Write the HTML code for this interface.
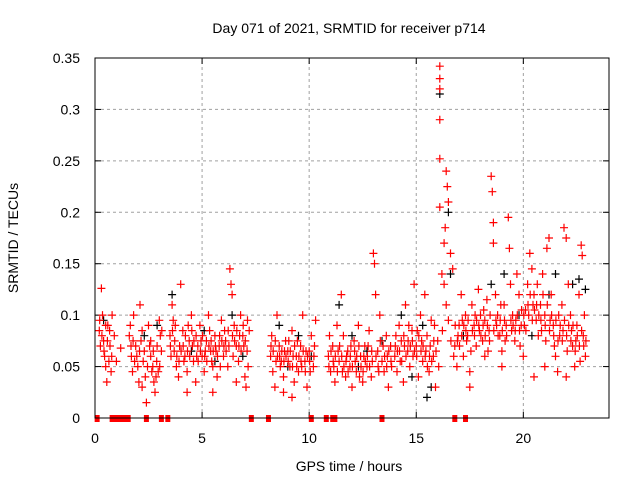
<!DOCTYPE html>
<html><head><meta charset="utf-8"><style>
html,body{margin:0;padding:0;background:#fff}
svg{display:block;font-family:"Liberation Sans",sans-serif}
</style></head><body>
<svg id="chart" width="640" height="480" viewBox="0 0 640 480">
<text x="349" y="33" font-size="14" text-anchor="middle">Day 071 of 2021, SRMTID for receiver p714</text>
<text x="349" y="471" font-size="14" text-anchor="middle">GPS time / hours</text>
<text x="18" y="238" font-size="14" text-anchor="middle" transform="rotate(-90 18 238)">SRMTID / TECUs</text>
<g id="grid"></g>
<g id="ticks"></g>
<g id="black"></g>
<g id="red"></g>
<g id="gaps"></g>
<rect x="95" y="58" width="514" height="360" fill="none" stroke="#000" stroke-width="1"/>
</svg>
<script>
const xTicks = [0,5,10,15,20];
const yTicks = [0,0.05,0.1,0.15,0.2,0.25,0.3,0.35];
const yTickLabels = ["0","0.05","0.1","0.15","0.2","0.25","0.3","0.35"];
const zeroTimes = [0.1,0.8,0.95,1.1,1.25,1.4,1.55,2.4,3.1,3.4,7.3,8.1,10.1,10.8,11.1,11.2,13.4,16.8,17.3];
const redPts = [[0.2,0.085],[0.3,0.126],[0.35,0.1],[0.4,0.075],[0.45,0.06],[0.5,0.05],[0.55,0.035],[0.6,0.09],[0.7,0.07],[0.75,0.045],[0.8,0.1],[0.9,0.08],[1.0,0.055],[1.2,0.068],
[1.6,0.08],[1.7,0.06],[1.75,0.045],[1.8,0.1],[1.9,0.07],[2.0,0.05],[2.05,0.035],[2.1,0.11],[2.2,0.085],[2.3,0.065],[2.35,0.04],[2.4,0.015],[2.5,0.09],[2.6,0.06],[2.7,0.05],[2.75,0.035],[2.8,0.025],[2.9,0.07],[2.95,0.045],[3.0,0.095],[3.1,0.065],[2.6,0.075],[2.2,0.03],
[3.5,0.08],[3.6,0.11],[3.65,0.095],[3.7,0.065],[3.8,0.05],[3.9,0.04],[4.0,0.13],[4.1,0.085],[4.2,0.06],[4.3,0.045],[4.4,0.075],[4.5,0.1],[4.6,0.055],[4.7,0.035],[4.8,0.07],[4.9,0.09],[5.0,0.06],[5.1,0.045],[5.2,0.075],[5.3,0.1],[5.4,0.065],[5.5,0.05],[5.6,0.08],[5.7,0.04],[5.8,0.07],[5.9,0.095],[6.0,0.06],[6.1,0.075],[6.2,0.05],[6.3,0.145],[6.35,0.13],[6.4,0.12],[6.5,0.09],[6.6,0.07],[6.7,0.055],[6.8,0.1],[6.9,0.08],[7.0,0.04],[7.05,0.03],[7.1,0.065],[7.2,0.085],[4.3,0.025],[5.5,0.025],[6.6,0.035],
[8.2,0.06],[8.3,0.045],[8.4,0.03],[8.5,0.1],[8.6,0.07],[8.7,0.055],[8.8,0.04],[8.9,0.075],[9.0,0.065],[9.1,0.05],[9.2,0.085],[9.3,0.035],[9.4,0.06],[9.5,0.045],[9.6,0.07],[9.7,0.1],[9.8,0.055],[9.9,0.03],[10.0,0.065],[10.1,0.08],[10.2,0.05],[10.3,0.095],[9.2,0.02],[8.8,0.025],
[10.9,0.06],[11.0,0.045],[11.1,0.07],[11.2,0.035],[11.3,0.09],[11.4,0.055],[11.5,0.12],[11.6,0.08],[11.7,0.04],[11.8,0.065],[11.9,0.05],[12.0,0.03],[12.1,0.075],[12.2,0.045],[12.3,0.09],[12.4,0.06],[12.5,0.035],[12.6,0.07],[12.7,0.05],[12.8,0.085],[12.9,0.04],[13.0,0.16],[13.05,0.15],[13.1,0.12],[13.2,0.065],[13.3,0.1],[13.4,0.055],[13.5,0.045],[13.6,0.08],[13.7,0.03],[13.8,0.07],
[14.0,0.06],[14.1,0.045],[14.2,0.09],[14.3,0.075],[14.4,0.035],[14.5,0.11],[14.6,0.065],[14.7,0.05],[14.8,0.085],[14.9,0.13],[15.0,0.07],[15.1,0.04],[15.2,0.1],[15.3,0.055],[15.4,0.12],[15.5,0.08],[15.6,0.045],[15.7,0.095],[15.8,0.06],[15.9,0.03],[16.0,0.075],
[16.1,0.342],[16.1,0.33],[16.1,0.32],[16.1,0.29],[16.1,0.252],[16.1,0.205],[16.2,0.14],[16.3,0.17],[16.35,0.185],[16.4,0.24],[16.45,0.225],[16.5,0.21],[16.3,0.13],[16.4,0.11],[16.5,0.095],[16.6,0.16],[16.7,0.145],[16.8,0.07],[16.9,0.05],[17.0,0.09],[17.1,0.12],[17.2,0.06],[17.3,0.1],[17.4,0.08],[17.5,0.045],[17.6,0.11],[17.7,0.09],[17.8,0.07],[17.9,0.125],[18.0,0.1],[18.1,0.075],[18.2,0.095],[18.3,0.115],[18.4,0.085],[18.5,0.235],[18.55,0.22],[18.6,0.19],[18.6,0.17],[18.7,0.12],[18.8,0.1],[18.9,0.08],[19.0,0.065],[19.1,0.11],[19.2,0.09],[19.3,0.195],[19.35,0.165],[19.4,0.13],[19.5,0.1],[19.6,0.075],[19.7,0.14],[19.8,0.12],[19.9,0.09],[20.0,0.06],[20.1,0.105],[20.2,0.13],[20.3,0.16],[20.4,0.145],[20.5,0.12],[20.6,0.095],[20.7,0.08],[20.8,0.11],[20.9,0.14],[21.0,0.1],[21.1,0.165],[21.2,0.175],[21.3,0.12],[21.4,0.09],[21.5,0.06],[21.6,0.045],[21.7,0.08],[21.8,0.11],[21.9,0.185],[22.0,0.175],[22.1,0.13],[22.2,0.1],[22.3,0.07],[22.4,0.05],[22.5,0.09],[22.6,0.12],[22.7,0.168],[22.75,0.158],[22.8,0.08],[22.9,0.06],[17.5,0.03],[18.2,0.06],[19.0,0.05],[20.5,0.04],[21.0,0.05],[22.0,0.04]];
const redPtsExtra = [[0.25,0.07],[0.5,0.09],[0.65,0.055],[1.65,0.09],[1.85,0.055],[2.15,0.075],[2.45,0.05],[2.85,0.04],[3.05,0.08],[3.55,0.06],[3.75,0.09],[3.95,0.07],[4.15,0.055],[4.35,0.09],[4.55,0.07],[4.75,0.06],[4.95,0.075],[5.15,0.065],[5.35,0.085],[5.45,0.055],[5.65,0.065],[5.85,0.05],[6.05,0.085],[6.25,0.07],[6.45,0.06],[6.75,0.08],[6.95,0.07],[7.15,0.05],[8.25,0.08],[8.45,0.055],[8.65,0.05],[8.85,0.065],[9.05,0.075],[9.25,0.06],[9.45,0.075],[9.65,0.05],[9.85,0.065],[10.05,0.045],[10.25,0.07],[10.95,0.08],[11.15,0.05],[11.35,0.065],[11.55,0.045],[11.75,0.06],[11.95,0.07],[12.15,0.055],[12.35,0.04],[12.55,0.06],[12.75,0.07],[12.95,0.055],[13.25,0.045],[13.45,0.07],[13.65,0.06],[13.85,0.05],[14.05,0.08],[14.25,0.055],[14.45,0.07],[14.65,0.09],[14.85,0.06],[15.05,0.085],[15.25,0.075],[15.45,0.065],[15.65,0.07],[15.85,0.09],[16.05,0.05],[16.75,0.06],[16.95,0.08],[17.15,0.095],[17.35,0.075],[17.55,0.065],[17.75,0.1],[17.95,0.085],[18.15,0.105],[18.35,0.065],[18.45,0.1],[18.75,0.09],[18.95,0.11],[19.15,0.075],[19.45,0.085],[19.65,0.095],[19.85,0.07],[20.05,0.09],[20.25,0.1],[20.45,0.11],[20.65,0.13],[20.85,0.085],[21.05,0.075],[21.25,0.095],[21.45,0.07],[21.65,0.1],[21.85,0.085],[22.05,0.065],[22.25,0.085],[22.45,0.075],[22.65,0.055],[22.85,0.1]];
const redPtsDense = [[0.22,0.095],[0.32,0.08],[0.42,0.065],[0.58,0.075],[0.68,0.085],[0.78,0.06],[1.68,0.07],[1.78,0.075],[1.95,0.06],[2.08,0.065],[2.25,0.055],[2.55,0.07],[2.65,0.045],[2.72,0.065],[2.88,0.055],[3.02,0.05],[3.12,0.085],
[3.52,0.07],[3.62,0.085],[3.72,0.075],[3.82,0.06],[3.92,0.055],[4.02,0.065],[4.12,0.07],[4.22,0.08],[4.32,0.065],[4.42,0.06],[4.52,0.085],[4.62,0.075],[4.72,0.08],[4.82,0.055],[4.92,0.065],[5.02,0.08],[5.12,0.06],[5.22,0.055],[5.32,0.07],[5.42,0.075],[5.52,0.065],[5.62,0.07],[5.72,0.06],[5.82,0.08],[5.92,0.075],[6.02,0.07],[6.12,0.065],[6.22,0.085],[6.42,0.08],[6.52,0.075],[6.62,0.085],[6.72,0.07],[6.82,0.065],[6.92,0.09],[7.02,0.075],[7.12,0.095],
[8.22,0.07],[8.32,0.065],[8.42,0.075],[8.52,0.06],[8.62,0.06],[8.72,0.065],[8.82,0.055],[8.92,0.06],[9.02,0.055],[9.12,0.065],[9.22,0.05],[9.32,0.07],[9.42,0.05],[9.52,0.06],[9.62,0.055],[9.72,0.065],[9.82,0.045],[9.92,0.06],[10.02,0.055],[10.22,0.06],
[10.92,0.05],[11.02,0.065],[11.12,0.055],[11.22,0.06],[11.32,0.045],[11.42,0.07],[11.52,0.06],[11.62,0.05],[11.72,0.055],[11.82,0.045],[11.92,0.06],[12.02,0.05],[12.12,0.065],[12.22,0.06],[12.32,0.07],[12.42,0.05],[12.52,0.045],[12.62,0.055],[12.72,0.06],[12.82,0.05],[12.92,0.065],[13.12,0.06],[13.22,0.05],[13.32,0.075],[13.52,0.06],[13.62,0.05],[13.72,0.065],[13.82,0.055],
[14.02,0.07],[14.12,0.065],[14.22,0.065],[14.32,0.055],[14.42,0.08],[14.52,0.06],[14.62,0.075],[14.72,0.07],[14.82,0.075],[14.92,0.065],[15.02,0.06],[15.12,0.08],[15.22,0.065],[15.32,0.07],[15.42,0.06],[15.52,0.05],[15.62,0.06],[15.72,0.055],[15.82,0.075],[15.92,0.065],
[16.22,0.085],[16.62,0.075],[16.82,0.09],[16.92,0.075],[17.02,0.07],[17.12,0.08],[17.22,0.09],[17.32,0.085],[17.42,0.095],[17.62,0.085],[17.72,0.08],[17.82,0.095],[17.92,0.09],[18.02,0.08],[18.12,0.09],[18.22,0.08],[18.32,0.09],[18.42,0.075],[18.62,0.085],[18.72,0.095],[18.82,0.08],[18.92,0.095],[19.02,0.085],[19.12,0.095],[19.22,0.08],[19.42,0.095],[19.52,0.09],[19.62,0.085],[19.72,0.1],[19.82,0.085],[19.92,0.105],[20.02,0.1],[20.12,0.085],[20.22,0.11],[20.32,0.12],[20.42,0.095],[20.52,0.105],[20.62,0.11],[20.72,0.1],[20.82,0.095],[20.92,0.12],[21.02,0.09],[21.12,0.11],[21.22,0.085],[21.32,0.1],[21.42,0.08],[21.52,0.095],[21.62,0.075],[21.72,0.09],[21.82,0.075],[21.92,0.095],[22.02,0.08],[22.12,0.09],[22.22,0.075],[22.32,0.09],[22.42,0.065],[22.52,0.08],[22.62,0.07],[22.72,0.085],[22.82,0.07],[22.92,0.075]];
const blackPts = [[0.4,0.095],[2.3,0.08],[2.9,0.09],[3.6,0.12],[4.5,0.065],[5.6,0.055],[6.4,0.1],[6.9,0.06],[8.6,0.09],[9.5,0.08],[10.1,0.06],[11.4,0.11],[12.0,0.08],[12.7,0.065],[13.4,0.075],[14.3,0.1],[14.8,0.04],[15.5,0.02],[15.7,0.03],[16.1,0.315],[16.5,0.2],[16.6,0.14],[17.2,0.08],[18.5,0.13],[19.1,0.14],[19.8,0.1],[20.4,0.08],[21.2,0.12],[21.5,0.14],[22.3,0.13],[22.6,0.135],[22.9,0.125],[15.3,0.09],[12.3,0.05],[9.0,0.05],[5.1,0.085]];

const X0=95, X1=609, Y0=418, Y1=58, XMAX=24, YMAX=0.35;
function xs(t){return X0+(X1-X0)*t/XMAX;}
function ys(v){return Y0-(Y0-Y1)*v/YMAX;}
const NS="http://www.w3.org/2000/svg";
function mk(tag,attrs,parent){const e=document.createElementNS(NS,tag);for(const k in attrs)e.setAttribute(k,attrs[k]);parent.appendChild(e);return e;}
const grid=document.getElementById('grid'), ticks=document.getElementById('ticks');
xTicks.forEach((t,i)=>{
  const x=xs(t);
  if(t>0){const g=mk('line',{x1:x,y1:Y0,x2:x,y2:Y1,stroke:'#a0a0a0','stroke-dasharray':'3,3'},grid);
  
  }
  mk('line',{x1:x,y1:Y0,x2:x,y2:Y0-6,stroke:'#000'},ticks);
  mk('line',{x1:x,y1:Y1,x2:x,y2:Y1+6,stroke:'#000'},ticks);
  const lb=mk('text',{x:x,y:443,'font-size':14,'text-anchor':'middle'},ticks);
  lb.textContent=String(t);
  
  
});
yTicks.forEach((v,i)=>{
  const y=ys(v);
  if(v>0&&v<YMAX){const g=mk('line',{x1:X0,y1:y,x2:X1,y2:y,stroke:'#a0a0a0','stroke-dasharray':'3,3'},grid);
  
  }
  mk('line',{x1:X0,y1:y,x2:X0+6,y2:y,stroke:'#000'},ticks);
  mk('line',{x1:X1,y1:y,x2:X1-6,y2:y,stroke:'#000'},ticks);
  const lb=mk('text',{x:80,y:y+5,'font-size':14,'text-anchor':'end'},ticks);
  lb.textContent=yTickLabels[i];
  
  
});
function plus(pts,color,gid,name){
  const g=document.getElementById(gid); let d='';
  pts.forEach(p=>{const x=xs(p[0]).toFixed(1),y=ys(p[1]).toFixed(1);d+=`M${x-4} ${y}h8M${x} ${y-4}v8`;});
  const path=mk('path',{d:d,stroke:color,'stroke-width':1.2,fill:'none'},g);
  
  
}
plus(blackPts,'#000','black','black-points');
plus(redPts,'#ff0000','red','red-points');
plus(redPtsExtra,'#ff0000','red','red-points-extra');
plus(redPtsDense,'#ff0000','red','red-points-dense');
const gaps=document.getElementById('gaps');
zeroTimes.forEach(t=>{
  const r=mk('rect',{x:xs(t)-2.5,y:Y0-3,width:5,height:7,fill:'#ff0000'},gaps);
  
  
});
</script>
</body></html>
